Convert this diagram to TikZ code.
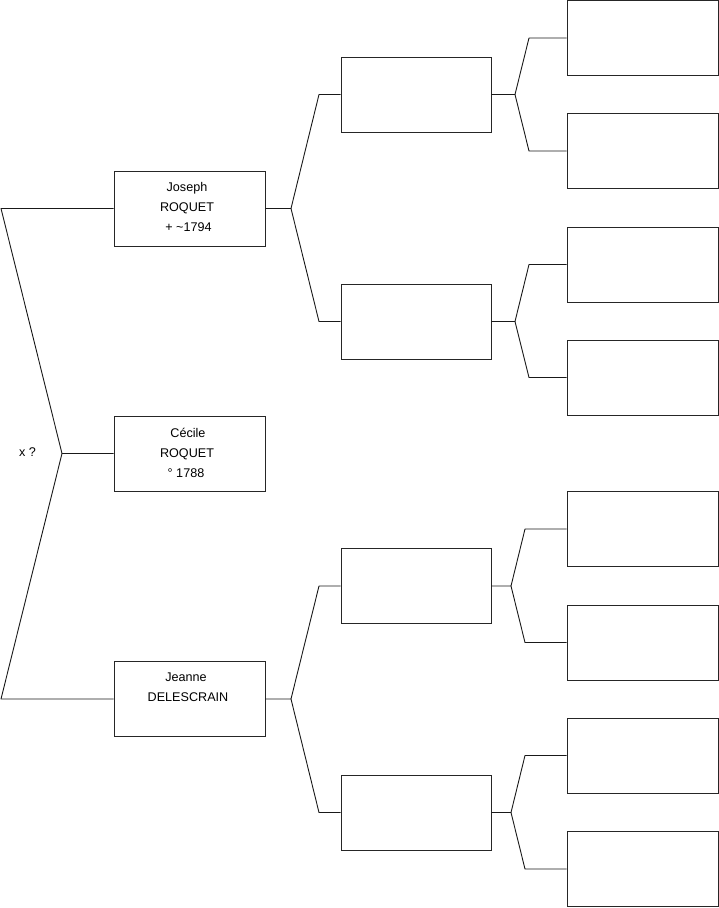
\documentclass[tikz,border=0pt]{standalone}
\usepackage{fontspec}
\setmainfont{Liberation Sans}
\begin{document}
\begin{tikzpicture}[x=1pt,y=-1pt,
  personbox/.style={draw=black!85,line width=0.9pt,rectangle,inner sep=0pt,minimum height=75pt},
  gone/.style={personbox,minimum width=151pt},
  gtwo/.style={personbox,minimum width=150pt},
  gthree/.style={personbox,minimum width=151pt},
  txt/.style={anchor=base,inner sep=0pt,font=\fontsize{12.6}{14}\selectfont},
  link/.style={draw=black!90,line width=0.9pt,line join=round}]
\useasboundingbox (0,0) rectangle (719,908);
% generation 1
\node[gone] (joseph) at (189.5,208.5) {};
\node[gone] (cecile) at (189.5,453.5) {};
\node[gone] (jeanne) at (189.5,699) {};
% generation 2
\node[gtwo] (pa) at (416,94.5) {};
\node[gtwo] (pb) at (416,321.5) {};
\node[gtwo] (pc) at (416,586) {};
\node[gtwo] (pd) at (416,812.5) {};
% generation 3
\node[gthree] (ga) at (642.5,38) {};
\node[gthree] (gb) at (642.5,151) {};
\node[gthree] (gc) at (642.5,264.5) {};
\node[gthree] (gd) at (642.5,377.5) {};
\node[gthree] (ge) at (642.5,529) {};
\node[gthree] (gf) at (642.5,642.5) {};
\node[gthree] (gg) at (642.5,755.5) {};
\node[gthree] (gh) at (642.5,869) {};
% texts
\node[txt] (j1) at (187,191.5) {Joseph};
\node[txt] (j2) at (187,211) {ROQUET};
\node[txt] (j3) at (188.5,231) {+ \textasciitilde1794};
\node[txt] (c1) at (188,437.3) {Cécile};
\node[txt] (c2) at (187,457.3) {ROQUET};
\node[txt] (c3) at (186,477.3) {° 1788};
\node[txt] (e1) at (186,681.3) {Jeanne};
\node[txt] (e2) at (188,701.3) {DELESCRAIN};
\node[txt] (xq) at (27.5,456.5) {x ?};
% coordinates
\coordinate (la) at (1,208.5);
\coordinate (lm) at (62,453.5);
\coordinate (lb) at (1,699);
\coordinate (ja) at (291,208.5);
\coordinate (jau) at (319,94.5);
\coordinate (jal) at (319,321.5);
\coordinate (jb) at (291,699);
\coordinate (jbu) at (319,586);
\coordinate (jbl) at (319,812.5);
\coordinate (ka) at (515,94.5);
\coordinate (kau) at (529,38);
\coordinate (kal) at (529,151);
\coordinate (kb) at (515,321.5);
\coordinate (kbu) at (529,264.5);
\coordinate (kbl) at (529,377.5);
\coordinate (kc) at (511,586);
\coordinate (kcu) at (525,529);
\coordinate (kcl) at (525,642.5);
\coordinate (kd) at (511,812.5);
\coordinate (kdu) at (525,755.5);
\coordinate (kdl) at (525,869);
% connectors
\draw[link] (joseph.west) -- (la) -- (lm) -- (cecile.west);
\draw[link] (lm) -- (lb) -- (jeanne.west);
\draw[link] (joseph.east) -- (ja) -- (jau) -- (pa.west);
\draw[link] (ja) -- (jal) -- (pb.west);
\draw[link] (jeanne.east) -- (jb) -- (jbu) -- (pc.west);
\draw[link] (jb) -- (jbl) -- (pd.west);
\draw[link] (pa.east) -- (ka) -- (kau) -- (ga.west);
\draw[link] (ka) -- (kal) -- (gb.west);
\draw[link] (pb.east) -- (kb) -- (kbu) -- (gc.west);
\draw[link] (kb) -- (kbl) -- (gd.west);
\draw[link] (pc.east) -- (kc) -- (kcu) -- (ge.west);
\draw[link] (kc) -- (kcl) -- (gf.west);
\draw[link] (pd.east) -- (kd) -- (kdu) -- (gg.west);
\draw[link] (kd) -- (kdl) -- (gh.west);
\end{tikzpicture}
\end{document}
